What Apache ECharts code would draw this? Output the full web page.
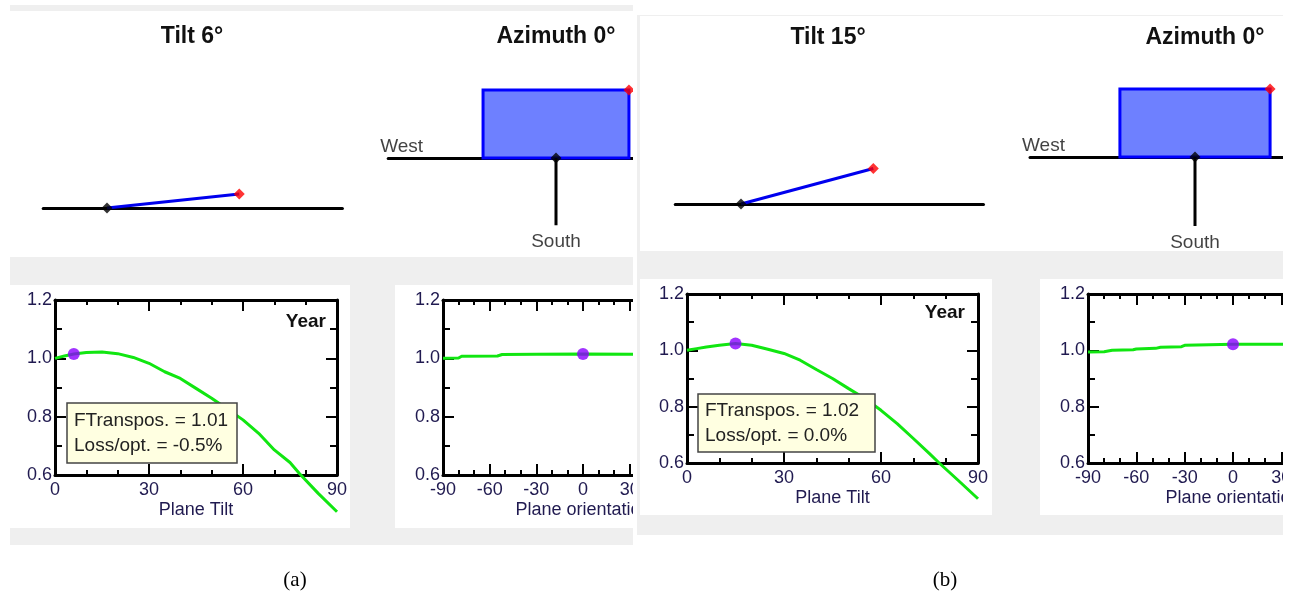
<!DOCTYPE html>
<html><head><meta charset="utf-8">
<script src="https://cdn.jsdelivr.net/npm/echarts@6/dist/echarts.min.js"></script>
<style>
html,body{margin:0;padding:0;background:#fff;width:1290px;height:601px;overflow:hidden}
#chartA{position:absolute;left:0;top:0;width:633px;height:601px}
#chartB{position:absolute;left:637px;top:0;width:646px;height:601px}
</style></head><body>
<div id="chartA"></div><div id="chartB"></div>
<script>
// ---------------- data ----------------
const panelLabels = ['(a)', '(b)'];
const tiltDeg = [6, 15];
const azimuthDeg = [0, 0];
const fTranspos = [1.01, 1.02];
const lossOpt = [-0.5, 0.0];
const periodLabel = 'Year';
const tiltAxisTicks = [0, 30, 60, 90];
const orientAxisTicks = [-90, -60, -30, 0, 30, 60, 90];
const factorAxisTicks = [0.6, 0.8, 1.0, 1.2];
const tiltAxisName = 'Plane Tilt';
const orientAxisName = 'Plane orientation';

const tiltX = [0, 3, 6, 10, 15, 20, 25, 30, 35, 40, 45, 50, 55, 60, 65, 70, 75, 78, 84, 90];
const tiltFactorA = [1.0, 1.008, 1.015, 1.02, 1.022, 1.016, 1.003, 0.983, 0.954, 0.931, 0.897, 0.863, 0.826, 0.789, 0.743, 0.686, 0.643, 0.605, 0.537, 0.474];
const tiltFactorB = [1.0, 1.006, 1.012, 1.018, 1.024, 1.018, 1.004, 0.989, 0.965, 0.932, 0.9, 0.864, 0.829, 0.787, 0.74, 0.687, 0.633, 0.6, 0.537, 0.473];

const orientXA = [-90, -80, -78, -55, -52, -30, 0, 35];
const orientFactorA = [1.0, 1.001, 1.007, 1.008, 1.013, 1.014, 1.015, 1.014];
const orientXB = [-90, -80, -75, -62, -60, -48, -45, -32, -30, 0, 35];
const orientFactorB = [0.994, 0.995, 1.0, 1.002, 1.005, 1.007, 1.011, 1.013, 1.018, 1.022, 1.022];

const currentTiltFactor = [1.015, 1.024];
const currentOrientFactor = [1.015, 1.022];

// diagram geometry constants (diagram units)
const PANEL_LEN = 1;
const PLAN_WIDTH = 2.13;
const PLAN_DEPTH = 1;
const SOUTH_LEN = 0.98;
const TILT_RANGE = [-0.48, 1.77];

// ---------------- layout ----------------
const LAYOUT = [
  { bg: [10, 5, 623, 540], whites: [[10, 11, 623, 246], [10, 285, 340, 243], [395, 285, 238, 243]],
    titleY: 37, tiltTitleX: 192, azTitleX: 556,
    tiltPivot: [107, 208], tiltUnit: 133,
    azOrigin: [556, 158], azUnit: 68.5, westX: -2.45,
    tiltGrid: { left: 55, top: 300, width: 282, height: 175 },
    orientGrid: { left: 443, top: 300, width: 280, height: 175 },
    yearPos: [326, 322], box: [67, 403, 170, 60], panelLabelX: 295 },
  { bg: [0, 15, 646, 520], whites: [[3, 16, 643, 235], [3, 279, 352, 236], [403, 279, 243, 236]],
    titleY: 38, tiltTitleX: 191, azTitleX: 568,
    tiltPivot: [104, 204], tiltUnit: 137,
    azOrigin: [558, 157], azUnit: 70.5, westX: -2.34,
    tiltGrid: { left: 50, top: 294, width: 291, height: 169 },
    orientGrid: { left: 451, top: 294, width: 290, height: 169 },
    yearPos: [328, 313], box: [61, 394, 177, 58], panelLabelX: 308 }
];

const FONT = "'Liberation Sans', Arial, sans-serif";
const LABEL_COLOR = '#201a50';
const BG_GRAY = '#efefef';

function zip(xs, ys) { return xs.map((x, i) => [x, ys[i]]); }

function plotXAxis(gridIndex, ticks, position, name) {
  const bottom = position === 'bottom';
  return {
    gridIndex, type: 'value', position,
    min: ticks[0], max: ticks[ticks.length - 1], interval: ticks[1] - ticks[0],
    axisLine: { show: true, onZero: false, lineStyle: { color: '#000', width: 3 } },
    axisTick: { show: true, inside: true, length: 11, lineStyle: { color: '#000', width: 2 } },
    minorTick: { show: true, splitNumber: 3, length: 5, lineStyle: { color: '#000', width: 2 } },
    splitLine: { show: false }, minorSplitLine: { show: false },
    axisLabel: { show: bottom, margin: 6, color: LABEL_COLOR, fontFamily: FONT, fontSize: 18, formatter: v => String(v) },
    name: bottom ? name : '', nameLocation: 'middle', nameGap: 26,
    nameTextStyle: { color: LABEL_COLOR, fontFamily: FONT, fontSize: 18 }
  };
}
function plotYAxis(gridIndex, ticks, position) {
  const left = position === 'left';
  return {
    gridIndex, type: 'value', position,
    min: ticks[0], max: ticks[ticks.length - 1], interval: 0.2,
    axisLine: { show: true, onZero: false, lineStyle: { color: '#000', width: 3 } },
    axisTick: { show: true, inside: true, length: 11, lineStyle: { color: '#000', width: 2 } },
    minorTick: { show: true, splitNumber: 2, length: 7, lineStyle: { color: '#000', width: 2 } },
    splitLine: { show: false }, minorSplitLine: { show: false },
    axisLabel: { show: left, margin: 3, color: LABEL_COLOR, fontFamily: FONT, fontSize: 18, formatter: v => v.toFixed(1) }
  };
}

function buildOption(p) {
  const L = LAYOUT[p];
  const tilt = tiltDeg[p], az = azimuthDeg[p];
  const tr = tilt * Math.PI / 180, ar = az * Math.PI / 180;
  const tip = [Math.cos(tr) * PANEL_LEN, Math.sin(tr) * PANEL_LEN];
  const depth = PLAN_DEPTH * Math.cos(tr);
  const rot = ([x, y]) => [x * Math.cos(ar) - y * Math.sin(ar), x * Math.sin(ar) + y * Math.cos(ar)];
  const corners = [[-PLAN_WIDTH / 2, 0], [PLAN_WIDTH / 2, 0], [PLAN_WIDTH / 2, depth], [-PLAN_WIDTH / 2, depth]].map(rot);
  const tiltFactor = p === 0 ? tiltFactorA : tiltFactorB;
  const orientX = p === 0 ? orientXA : orientXB;
  const orientFactor = p === 0 ? orientFactorA : orientFactorB;

  const tu = L.tiltUnit, au = L.azUnit;
  const AZ_MAX = 2.45, AZ_Y = 1.3;
  const gridBase = { outerBoundsMode: 'none', containLabel: false };

  const graphic = [];
  graphic.push({ type: 'rect', z: -2, silent: true, shape: { x: L.bg[0], y: L.bg[1], width: L.bg[2], height: L.bg[3] }, style: { fill: BG_GRAY } });
  L.whites.forEach(w => graphic.push({ type: 'rect', z: -1, silent: true, shape: { x: w[0], y: w[1], width: w[2], height: w[3] }, style: { fill: '#fff' } }));
  graphic.push({ type: 'text', z: 100, x: L.tiltTitleX, y: L.titleY, style: { text: 'Tilt ' + tilt + '°', font: 'bold 23px ' + FONT, fill: '#111', align: 'center', verticalAlign: 'middle' } });
  graphic.push({ type: 'text', z: 100, x: L.azTitleX, y: L.titleY, style: { text: 'Azimuth ' + az + '°', font: 'bold 23px ' + FONT, fill: '#111', align: 'center', verticalAlign: 'middle' } });
  graphic.push({ type: 'text', z: 100, x: L.yearPos[0], y: L.yearPos[1], style: { text: periodLabel, font: 'bold 19px ' + FONT, fill: '#111', align: 'right', verticalAlign: 'middle' } });
  graphic.push({ type: 'rect', z: 100, shape: { x: L.box[0], y: L.box[1], width: L.box[2], height: L.box[3] }, style: { fill: '#ffffe1', stroke: '#444', lineWidth: 1.5 } });
  graphic.push({ type: 'text', z: 101, x: L.box[0] + 7, y: L.box[1] + L.box[3] / 2, style: {
    text: 'FTranspos. = ' + fTranspos[p].toFixed(2) + '\nLoss/opt. = ' + lossOpt[p].toFixed(1) + '%',
    font: '19px ' + FONT, fill: '#222', align: 'left', verticalAlign: 'middle', lineHeight: 25 } });
  graphic.push({ type: 'text', z: 100, x: L.panelLabelX, y: 580, style: { text: panelLabels[p], font: "21px 'Liberation Serif', 'Times New Roman', serif", fill: '#000', align: 'center', verticalAlign: 'middle' } });

  const labelStyle = { color: '#111', fontFamily: FONT, fontSize: 19 };

  return {
    animation: false,
    backgroundColor: 'transparent',
    graphic,
    grid: [
      Object.assign({ left: L.tiltPivot[0] + TILT_RANGE[0] * tu, top: L.tiltPivot[1] - 0.5 * tu, width: (TILT_RANGE[1] - TILT_RANGE[0]) * tu, height: 0.5 * tu }, gridBase),
      Object.assign({ left: L.azOrigin[0] + L.westX * au, top: L.azOrigin[1] - AZ_Y * au, width: (AZ_MAX - L.westX) * au, height: 2 * AZ_Y * au }, gridBase),
      Object.assign({}, L.tiltGrid, gridBase),
      Object.assign({}, L.orientGrid, gridBase)
    ],
    xAxis: [
      { gridIndex: 0, type: 'value', min: TILT_RANGE[0], max: TILT_RANGE[1],
        axisLine: { show: true, onZero: true, lineStyle: { color: '#000', width: 3 } },
        axisTick: { show: false }, axisLabel: { show: false }, splitLine: { show: false } },
      { gridIndex: 1, type: 'value', min: L.westX, max: AZ_MAX,
        axisLine: { show: true, onZero: true, lineStyle: { color: '#000', width: 3 } },
        axisTick: { show: false }, axisLabel: { show: false }, splitLine: { show: false } },
      plotXAxis(2, tiltAxisTicks, 'bottom', tiltAxisName),
      plotXAxis(2, tiltAxisTicks, 'top', ''),
      plotXAxis(3, orientAxisTicks, 'bottom', orientAxisName),
      plotXAxis(3, orientAxisTicks, 'top', '')
    ],
    yAxis: [
      { gridIndex: 0, type: 'value', min: 0, max: 0.5, show: false },
      { gridIndex: 1, type: 'value', min: -AZ_Y, max: AZ_Y, show: false },
      plotYAxis(2, factorAxisTicks, 'left'),
      plotYAxis(2, factorAxisTicks, 'right'),
      plotYAxis(3, factorAxisTicks, 'left'),
      plotYAxis(3, factorAxisTicks, 'right')
    ],
    series: [
      { type: 'line', xAxisIndex: 0, yAxisIndex: 0, data: [[0, 0], tip], symbol: 'none', clip: false, z: 3,
        lineStyle: { color: '#0000ee', width: 3 } },
      { type: 'scatter', xAxisIndex: 0, yAxisIndex: 0, symbol: 'diamond', symbolSize: 11, z: 4, clip: false,
        data: [{ value: [0, 0], itemStyle: { color: '#000' } }, { value: tip, itemStyle: { color: '#ff0000' } }] },
      { type: 'custom', xAxisIndex: 1, yAxisIndex: 1, z: 2, clip: false, data: [[0, 0]],
        renderItem: (params, api) => ({
          type: 'polygon',
          shape: { points: corners.map(c => api.coord(c)) },
          style: { fill: '#6e80ff', stroke: '#0000ff', lineWidth: 3 }
        }) },
      { type: 'line', xAxisIndex: 1, yAxisIndex: 1, data: [[0, 0], [0, -SOUTH_LEN]], symbol: 'none', clip: false, z: 3,
        lineStyle: { color: '#000', width: 3 } },
      { type: 'scatter', xAxisIndex: 1, yAxisIndex: 1, symbolSize: 1, z: 5, clip: false, itemStyle: { color: 'rgba(0,0,0,0)' },
        data: [
          { name: 'South', value: [0, -SOUTH_LEN], label: { show: true, position: 'bottom', distance: 7, formatter: '{b}', ...labelStyle } },
          { name: 'West', value: [L.westX, 0], label: { show: true, position: 'top', align: 'left', offset: [-8, 1], distance: 2, formatter: '{b}', ...labelStyle } }
        ] },
      { type: 'scatter', xAxisIndex: 1, yAxisIndex: 1, symbol: 'diamond', symbolSize: 11, z: 4, clip: false,
        data: [{ value: [0, 0], itemStyle: { color: '#000' } }, { value: rot([PLAN_WIDTH / 2, depth]), itemStyle: { color: '#ff0000' } }] },
      { type: 'line', xAxisIndex: 2, yAxisIndex: 2, data: zip(tiltX, tiltFactor), symbol: 'none', clip: false, z: 3,
        lineStyle: { color: '#11e611', width: 3 } },
      { type: 'scatter', xAxisIndex: 2, yAxisIndex: 2, data: [[tilt, currentTiltFactor[p]]], symbol: 'circle', symbolSize: 12, z: 4,
        itemStyle: { color: '#8a00ff' } },
      { type: 'line', xAxisIndex: 4, yAxisIndex: 4, data: zip(orientX, orientFactor), symbol: 'none', clip: false, z: 3,
        lineStyle: { color: '#11e611', width: 3 } },
      { type: 'scatter', xAxisIndex: 4, yAxisIndex: 4, data: [[az, currentOrientFactor[p]]], symbol: 'circle', symbolSize: 12, z: 4,
        itemStyle: { color: '#8a00ff' } }
    ]
  };
}

const chartA = echarts.init(document.getElementById('chartA'), null, { renderer: 'canvas' });
chartA.setOption(buildOption(0));
const chartB = echarts.init(document.getElementById('chartB'), null, { renderer: 'canvas' });
chartB.setOption(buildOption(1));
</script>
</body></html>
